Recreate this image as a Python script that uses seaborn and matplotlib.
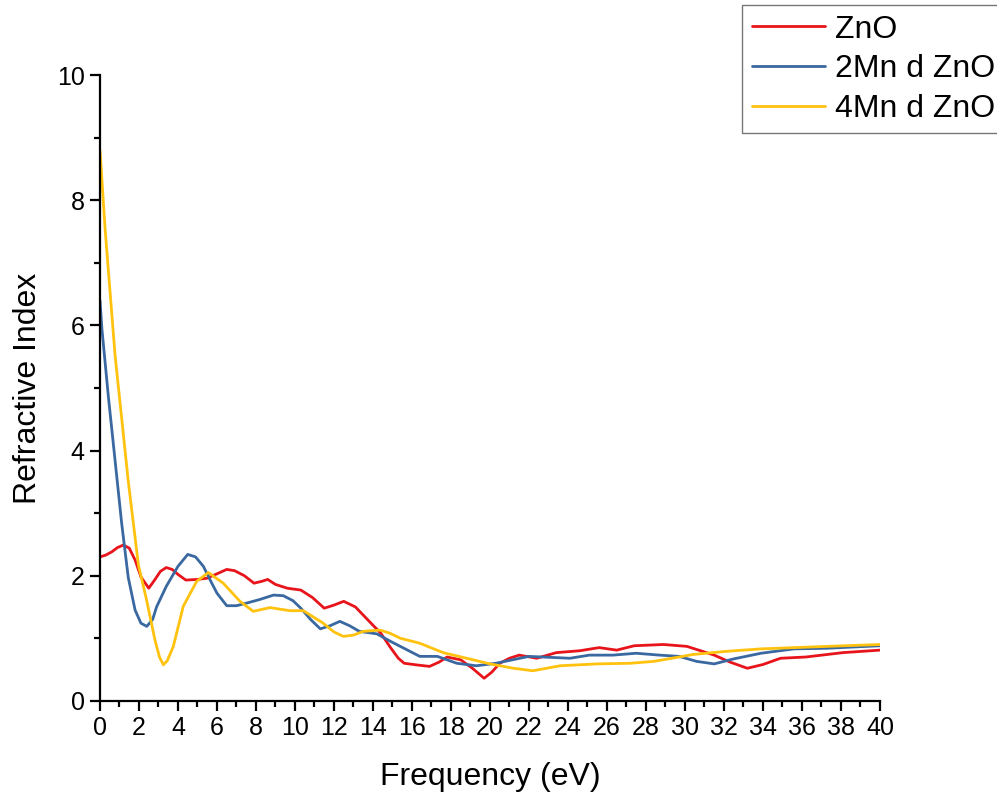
import numpy as np
import pandas as pd
import seaborn as sns
import matplotlib.pyplot as plt
from matplotlib.ticker import MultipleLocator

# values
zno_x = [0, 0.3, 0.6, 0.9, 1.2, 1.5, 1.8, 2.1, 2.5, 2.8, 3.1, 3.4, 3.7, 4.0, 4.4, 5.0, 5.5, 6.0, 6.5, 6.9, 7.4,
         7.9, 8.3, 8.6, 9.0, 9.6, 10.3, 10.9, 11.5, 12.0, 12.5, 13.1, 13.9, 14.4, 14.9, 15.3, 15.6, 16.2, 16.9,
         17.4, 17.8, 18.5, 19.1, 19.7, 20.1, 20.5, 21.0, 21.5, 22.4, 23.4, 24.6, 25.6, 26.5, 27.4, 28.9, 30.1,
         30.8, 31.5, 32.3, 33.2, 34.0, 34.9, 36.2, 38.1, 40.0]
zno_y = [2.30, 2.33, 2.38, 2.45, 2.49, 2.44, 2.25, 1.98, 1.80, 1.93, 2.07, 2.13, 2.10, 2.02, 1.93, 1.94, 1.96,
         2.03, 2.10, 2.08, 2.00, 1.88, 1.91, 1.94, 1.86, 1.80, 1.77, 1.65, 1.48, 1.53, 1.59, 1.50, 1.24, 1.08,
         0.85, 0.68, 0.60, 0.575, 0.55, 0.62, 0.70, 0.655, 0.52, 0.36, 0.46, 0.60, 0.68, 0.73, 0.68, 0.77, 0.80,
         0.85, 0.81, 0.88, 0.90, 0.87, 0.80, 0.73, 0.62, 0.52, 0.58, 0.68, 0.70, 0.77, 0.81]

mn2_x = [0, 0.1, 0.43, 0.77, 1.11, 1.45, 1.8, 2.1, 2.4, 2.7, 2.9, 3.4, 4.0, 4.5, 4.9, 5.3, 5.7, 6.0, 6.5, 7.0,
         7.5, 8.2, 8.9, 9.4, 9.9, 10.3, 10.8, 11.3, 11.8, 12.3, 12.8, 13.3, 14.2, 14.9, 15.4, 16.4, 17.3, 18.3,
         19.3, 20.3, 22.0, 24.1, 25.1, 26.3, 27.5, 28.7, 29.7, 30.6, 31.5, 32.5, 33.9, 35.6, 37.3, 40.0]
mn2_y = [6.40, 5.94, 4.86, 3.85, 2.84, 1.97, 1.45, 1.24, 1.19, 1.30, 1.50, 1.83, 2.15, 2.34, 2.30, 2.15, 1.90,
         1.72, 1.52, 1.52, 1.56, 1.62, 1.69, 1.68, 1.60, 1.48, 1.30, 1.15, 1.20, 1.27, 1.20, 1.11, 1.07, 0.95,
         0.87, 0.71, 0.71, 0.60, 0.56, 0.60, 0.71, 0.68, 0.73, 0.73, 0.76, 0.73, 0.71, 0.63, 0.59, 0.67, 0.76,
         0.83, 0.84, 0.88]

mn4_x = [0, 0.26, 0.77, 1.45, 1.97, 2.39, 2.82, 3.05, 3.25, 3.45, 3.76, 4.27, 4.96, 5.56, 6.32, 7.18, 7.86,
         8.72, 9.74, 10.43, 11.45, 12.0, 12.48, 13.0, 13.5, 14.36, 14.87, 15.4, 16.4, 17.6, 18.8, 20.0, 21.2,
         22.2, 23.6, 25.5, 27.2, 28.4, 29.7, 30.4, 32.1, 33.9, 35.6, 37.3, 40.0]
mn4_y = [8.80, 7.55, 5.53, 3.51, 2.17, 1.61, 0.97, 0.70, 0.575, 0.64, 0.87, 1.51, 1.91, 2.05, 1.88, 1.59, 1.43,
         1.49, 1.44, 1.44, 1.24, 1.10, 1.03, 1.05, 1.11, 1.13, 1.08, 1.00, 0.92, 0.77, 0.68, 0.59, 0.52, 0.48,
         0.56, 0.59, 0.60, 0.63, 0.70, 0.74, 0.79, 0.83, 0.85, 0.87, 0.90]

labels = ["ZnO", "2Mn d ZnO", "4Mn d ZnO"]
colors = ["#E8141B", "#3A68A0", "#FFC20E"]

df = pd.concat([
    pd.DataFrame({"Frequency (eV)": zno_x, "Refractive Index": zno_y, "sample": labels[0]}),
    pd.DataFrame({"Frequency (eV)": mn2_x, "Refractive Index": mn2_y, "sample": labels[1]}),
    pd.DataFrame({"Frequency (eV)": mn4_x, "Refractive Index": mn4_y, "sample": labels[2]}),
])

sns.set_theme(style="ticks")
plt.rcParams['font.family'] = ['Liberation Sans', 'DejaVu Sans']
plt.rcParams['text.color'] = 'black'
plt.rcParams['axes.labelcolor'] = 'black'

fig = plt.figure(figsize=(9.97, 8), dpi=100)
ax = fig.add_axes([0.1003, 0.124, 0.7823, 0.782])

sns.lineplot(data=df, x="Frequency (eV)", y="Refractive Index", hue="sample",
             palette=dict(zip(labels, colors)), linewidth=2, sort=False, ax=ax)

ax.set_xlim(0, 40)
ax.set_ylim(0, 10)
ax.xaxis.set_major_locator(MultipleLocator(2))
ax.xaxis.set_minor_locator(MultipleLocator(1))
ax.yaxis.set_major_locator(MultipleLocator(2))
ax.yaxis.set_minor_locator(MultipleLocator(1))
ax.tick_params(which="major", length=7, width=1.6, labelsize=18, colors="black", pad=4)
ax.tick_params(which="minor", length=4, width=1.6, colors="black")
ax.set_xlabel("Frequency (eV)", fontsize=23, labelpad=16)
ax.set_ylabel("Refractive Index", fontsize=23, labelpad=10)
for s in ["top", "right"]:
    ax.spines[s].set_visible(False)
for s in ["left", "bottom"]:
    ax.spines[s].set_linewidth(1.6)
    ax.spines[s].set_color("black")

handles, labs = ax.get_legend_handles_labels()
ax.legend(handles, labs, loc="upper left", bbox_to_anchor=(742 / 997, 1 - 5 / 800),
          bbox_transform=fig.transFigure, fontsize=23, frameon=True, fancybox=False,
          edgecolor="#555555", handlelength=2.3, handletextpad=0.3, borderpad=0.3,
          labelspacing=0.3, borderaxespad=0)
ax.get_legend().get_frame().set_linewidth(1.0)

plt.savefig("out.png", dpi=100)
